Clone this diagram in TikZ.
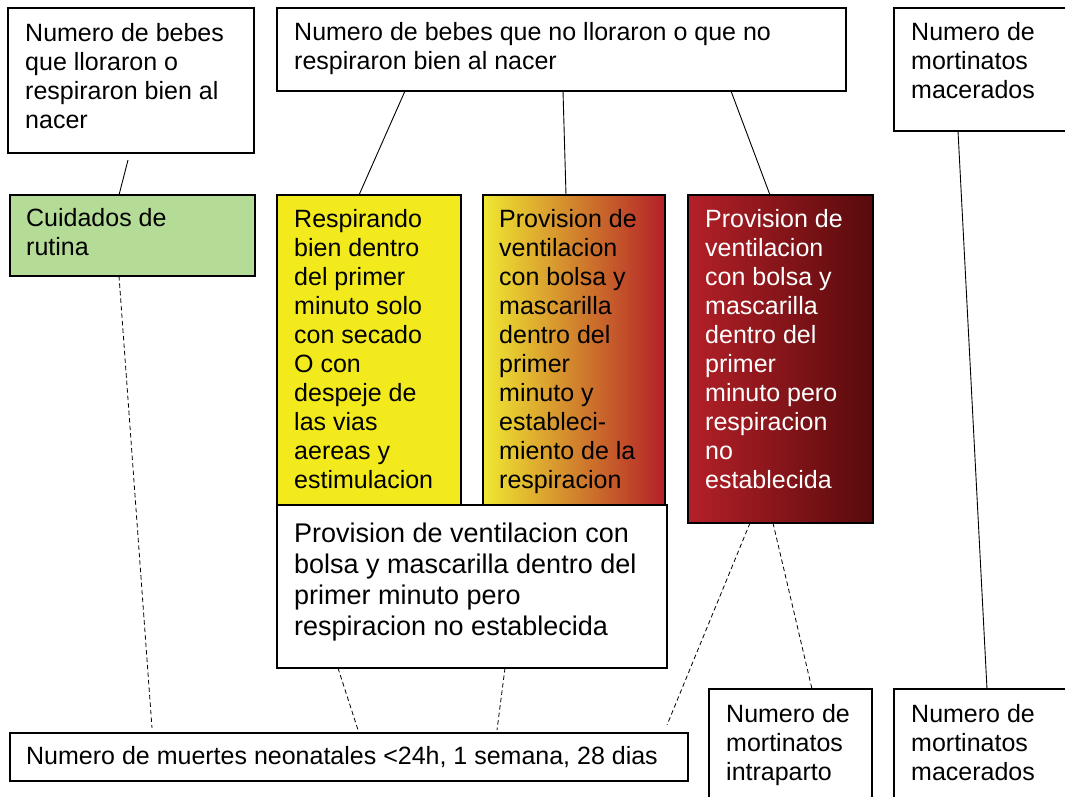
\documentclass[tikz,border=0pt]{standalone}
\usepackage{fontspec}
\setmainfont{Liberation Sans}
\usetikzlibrary{calc}
\definecolor{cgreen}{RGB}{180,220,150}
\definecolor{cyellow}{RGB}{242,234,28}
\definecolor{cyel2}{RGB}{240,232,50}
\definecolor{corange}{RGB}{215,150,45}
\definecolor{cred}{RGB}{180,32,40}
\definecolor{cdark}{RGB}{88,10,12}
\tikzset{
  box/.style={draw=black, line width=1.2pt, inner sep=0pt, outer sep=0pt, anchor=north west},
  txt/.style={inner sep=0pt, anchor=north west, align=left, font=\fontsize{25}{29}\selectfont},
  bigtxt/.style={inner sep=0pt, anchor=north west, align=left, font=\fontsize{27}{31}\selectfont},
  conn/.style={line width=0.9pt},
  dconn/.style={line width=0.8pt, dash pattern=on 4.5pt off 3pt},
}
\newcommand\mybox[6]{%
  \node[box,#6,minimum width={(#4-#2)*1pt},minimum height={(#5-#3)*1pt}] (#1) at (#2,#3) {};}
\begin{document}
\begin{tikzpicture}[x=1pt,y=-1pt]
\useasboundingbox (0,0) rectangle (1065,796);
\clip (0,0) rectangle (1065,796);
% boxes
\mybox{tl}{8}{8}{254}{153}{fill=white}
\mybox{tm}{277}{8}{846}{91}{fill=white}
\mybox{tr}{894}{8}{1080}{131}{fill=white}
\mybox{gr}{10}{195}{255}{276}{fill=cgreen}
\mybox{ye}{277}{195}{461}{523}{fill=cyellow}
\mybox{gd}{483}{195}{665}{505}{left color=cyel2, middle color=corange, right color=cred}
\mybox{dr}{688}{195}{873}{523}{left color=cred, right color=cdark}
\mybox{wb}{277}{505}{667}{668}{fill=white}
\mybox{bt}{10}{733}{688}{781}{fill=white}
\mybox{ip}{709}{689}{872}{810}{fill=white}
\mybox{mb}{894}{689}{1080}{810}{fill=white}
% texts
\node[txt] (ttl) at ($(tl.north west)+(17,15)$) {Numero de bebes\\que lloraron o\\respiraron bien al\\nacer};
\node[txt] (ttm) at ($(tm.north west)+(17,14)$) {Numero de bebes que no lloraron o que no\\respiraron bien al nacer};
\node[txt] (ttr) at ($(tr.north west)+(17,14)$) {Numero de\\mortinatos\\macerados};
\node[txt] (tgr) at ($(gr.north west)+(16,13)$) {Cuidados de\\rutina};
\node[txt] (tye) at ($(ye.north west)+(17,14)$) {Respirando\\bien dentro\\del primer\\minuto solo\\con secado\\O con\\despeje de\\las vias\\aereas y\\estimulacion};
\node[txt] (tgd) at ($(gd.north west)+(16,14)$) {Provision de\\ventilacion\\con bolsa y\\mascarilla\\dentro del\\primer\\minuto y\\estableci-\\miento de la\\respiracion};
\node[txt,text=white] (tdr) at ($(dr.north west)+(17,14)$) {Provision de\\ventilacion\\con bolsa y\\mascarilla\\dentro del\\primer\\minuto pero\\respiracion\\no\\establecida};
\node[bigtxt] (twb) at ($(wb.north west)+(17,18)$) {Provision de ventilacion con\\bolsa y mascarilla dentro del\\primer minuto pero\\respiracion no establecida};
\node[txt] (tbt) at ($(bt.north west)+(16,13)$) {Numero de muertes neonatales <24h, 1 semana, 28 dias};
\node[txt] (tip) at ($(ip.north west)+(17,15)$) {Numero de\\mortinatos\\intraparto};
\node[txt] (tmb) at ($(mb.north west)+(17,15)$) {Numero de\\mortinatos\\macerados};
% solid connectors
\draw[conn] ($(tl.south west)+(120,7)$) -- ($(gr.north west)+(109,0)$);
\draw[conn] ($(tm.south west)+(128,0)$) -- ($(ye.north west)+(82,0)$);
\draw[conn] ($(tm.south west)+(286,0)$) -- ($(gd.north west)+(83,0)$);
\draw[conn] ($(tm.south west)+(454,0)$) -- ($(dr.north west)+(82,0)$);
\draw[conn] ($(tr.south west)+(64,0)$) -- ($(mb.north west)+(93,0)$);
% dashed connectors
\draw[dconn] ($(gr.south west)+(109,0)$) -- ($(bt.north west)+(142,-5)$);
\draw[dconn] ($(wb.south west)+(61,0)$) -- ($(bt.north west)+(348,-3)$);
\draw[dconn] ($(wb.south west)+(228,0)$) -- ($(bt.north west)+(487,-3)$);
\draw[dconn] ($(dr.south west)+(62,0)$) -- ($(bt.north west)+(657,-8)$);
\draw[dconn] ($(dr.south west)+(85,0)$) -- ($(ip.north west)+(103,0)$);
\end{tikzpicture}
\end{document}
